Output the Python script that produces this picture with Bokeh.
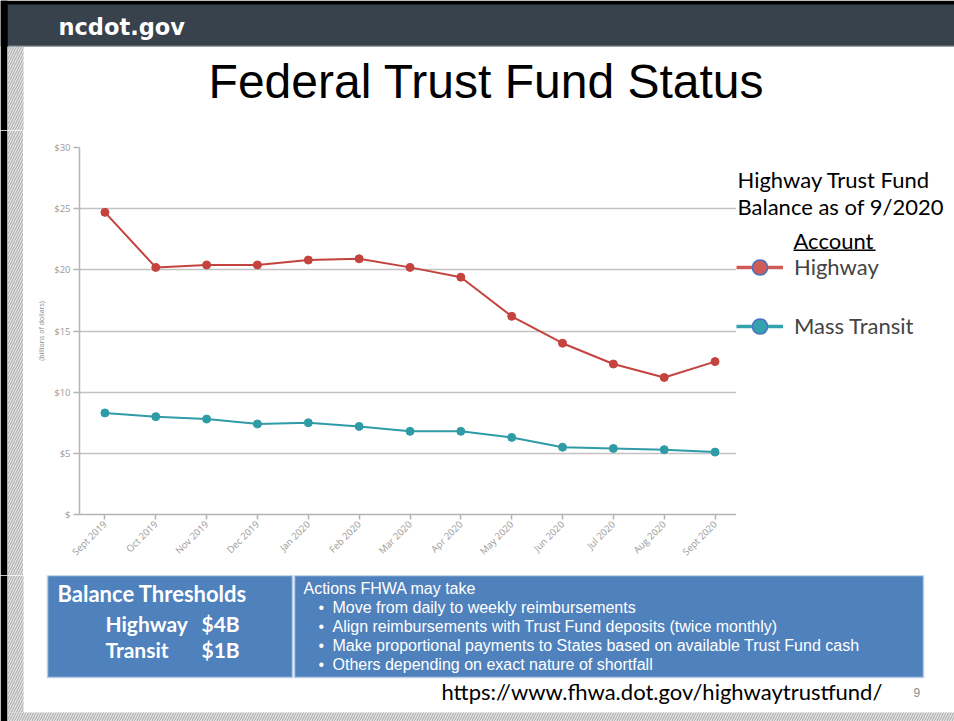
import math
from bokeh.plotting import figure
from bokeh.layouts import column, row
from bokeh.models import Range1d, Legend, LegendItem, FixedTicker
from bokeh.core.properties import value
from bokeh.embed import file_html
from bokeh.resources import INLINE

# ---------------- data ----------------
months = ["Sept 2019", "Oct 2019", "Nov 2019", "Dec 2019", "Jan 2020", "Feb 2020",
          "Mar 2020", "Apr 2020", "May 2020", "Jun 2020", "Jul 2020", "Aug 2020",
          "Sept 2020"]
highway = [24.7, 20.2, 20.4, 20.4, 20.8, 20.9, 20.2, 19.4, 16.2, 14.0, 12.3, 11.2, 12.5]
transit = [8.3, 8.0, 7.8, 7.4, 7.5, 7.2, 6.8, 6.8, 6.3, 5.5, 5.4, 5.3, 5.1]
y_ticks = [0, 5, 10, 15, 20, 25, 30]
y_tick_labels = ["$", "$5", "$10", "$15", "$20", "$25", "$30"]
series_names = ["Highway", "Mass Transit"]
actions = ["Move from daily to weekly reimbursements",
           "Align reimbursements with Trust Fund deposits (twice monthly)",
           "Make proportional payments to States based on available Trust Fund cash",
           "Others depending on exact nature of shortfall"]

RED = "#c4433e"
TEAL = "#2f9ba6"
BLUE_BOX = "#4f81bd"
HEADER = "#37424d"

xi = list(range(len(months)))

PAGE_W, PAGE_H = 954, 721
TOP_H = 130          # header + title strip
MID_H = 445          # chart row
STRIP_W = 23
SPLIT_X = 736        # chart | legend boundary
BASELINE_K = 0.37    # rendered baseline sits ~0.37em below the given y


def no_align(f):
    if "frame_align" in f.properties():
        f.frame_align = False
    return f


def deco_fig(x0, x1, y0, y1):
    """A plain figure whose frame fills it, in page pixel coordinates."""
    f = figure(width=x1 - x0, height=y1 - y0, x_range=Range1d(x0, x1),
               y_range=Range1d(y1, y0), output_backend="svg", toolbar_location=None,
               x_axis_location=None, y_axis_location=None, min_border=0)
    f.xgrid.grid_line_color = None
    f.ygrid.grid_line_color = None
    f.outline_line_color = None
    f.background_fill_color = "white"
    f.border_fill_color = "white"
    return no_align(f)


def hatch(f, l, r, t, b):
    f.quad(left=[l], right=[r], top=[t], bottom=[b], fill_color="#e3e3e3",
           line_color=None, hatch_pattern="/", hatch_color="#a6a6a6",
           hatch_scale=5, hatch_weight=1)


def rect(f, l, r, t, b, color, **kw):
    f.quad(left=[l], right=[r], top=[t], bottom=[b], fill_color=color,
           line_color=kw.pop("line_color", None), **kw)


def txt(f, x, y, s, size, font="Lato", color="black", align="left",
        style="normal"):
    f.text(x=[x], y=[y - BASELINE_K * size], text=[s], text_font=value(font),
           text_font_size=value(f"{size}px"), text_color=color,
           text_align=align, text_baseline="alphabetic", text_font_style=style)


# ---------------- top: header + title ----------------
top = deco_fig(0, PAGE_W, 0, TOP_H)
rect(top, 0, PAGE_W, 0, 46, "black")
rect(top, 7, PAGE_W, 4, 45, HEADER)
rect(top, 7, PAGE_W, 45, 46.5, "#9aa3aa")
rect(top, 0, 7, 0, TOP_H, "black")
hatch(top, 7, STRIP_W, 46.5, TOP_H)
txt(top, 58, 35, "ncdot.gov", 22.5, font="DejaVu Sans", color="white", style="bold")
txt(top, 486, 99, "Federal Trust Fund Status", 48, font="Liberation Sans",
    align="center")

# ---------------- middle: left strip ----------------
strip = deco_fig(0, STRIP_W, TOP_H, TOP_H + MID_H)
rect(strip, 0, 7, TOP_H, TOP_H + MID_H, "black")
hatch(strip, 7, STRIP_W, TOP_H, TOP_H + MID_H)

# ---------------- middle: chart ----------------
AX_L, AX_R_REF, AX_T, AX_B = 79, 740, 147, 514
px_per = (AX_R_REF - AX_L) / len(months)
x_end = -0.5 + (SPLIT_X - AX_L) / px_per
p = figure(width=SPLIT_X - STRIP_W, height=MID_H,
           x_range=Range1d(-0.5, x_end), y_range=Range1d(0, 30),
           output_backend="svg", toolbar_location=None,
           min_border_left=AX_L - STRIP_W, min_border_right=0,
           min_border_top=AX_T - TOP_H, min_border_bottom=TOP_H + MID_H - AX_B)
no_align(p)
p.outline_line_color = None
p.background_fill_color = "white"
p.border_fill_color = "white"
p.xgrid.grid_line_color = None
p.ygrid.grid_line_color = "#c2c2c2"
p.ygrid.grid_line_width = 1.5
p.yaxis.ticker = FixedTicker(ticks=y_ticks)
p.yaxis.major_label_overrides = {t: l for t, l in zip(y_ticks, y_tick_labels)}
p.xaxis.ticker = FixedTicker(ticks=xi)
p.xaxis.major_label_overrides = {i: m for i, m in zip(xi, months)}
for ax in (p.xaxis[0], p.yaxis[0]):
    ax.axis_line_color = "#b4b4b4"
    ax.axis_line_width = 1.5
    ax.major_tick_line_color = "#b4b4b4"
    ax.major_tick_line_width = 1.5
    ax.major_tick_in = 0
    ax.minor_tick_line_color = None
    ax.major_label_text_color = "#9a9a9a"
    ax.major_label_text_font = "Open Sans"
    ax.major_label_text_font_size = "9.5px"
p.yaxis.major_tick_out = 6
p.yaxis.major_label_standoff = 3
p.xaxis.major_tick_out = 5
p.xaxis.major_label_standoff = 3
p.xaxis.major_label_orientation = math.pi / 4
p.yaxis.axis_label = "(billions of dollars)"
p.yaxis.axis_label_text_font = "Open Sans"
p.yaxis.axis_label_text_font_size = "7px"
p.yaxis.axis_label_text_font_style = "normal"
p.yaxis.axis_label_text_color = "#8a8a8a"
p.yaxis.axis_label_standoff = 5

p.line(xi, highway, line_color=RED, line_width=2)
p.scatter(xi, highway, size=8, fill_color=RED, line_color=RED)
p.line(xi, transit, line_color=TEAL, line_width=2)
p.scatter(xi, transit, size=8, fill_color=TEAL, line_color=TEAL)

# ---------------- middle: legend panel ----------------
lg = deco_fig(SPLIT_X, PAGE_W, TOP_H, TOP_H + MID_H)
txt(lg, 737, 187, "Highway Trust Fund", 22)
txt(lg, 737, 214, "Balance as of 9/2020", 22)
txt(lg, 793, 248, "Account", 22)
rect(lg, 793, 875, 249, 250.5, "black")

# legend key renderers: their (dummy) points lie outside this panel's view,
# only the legend swatches are visible
off_x, off_y = [0, 1], [0, 1]
lg_h_line = lg.line(off_x, off_y, line_color="#cf5b57", line_width=3.5)
lg_h_dot = lg.scatter(off_x, off_y, fill_color="#cf5b57", line_color="#4a72c0",
                      line_width=1.5)
lg_t_line = lg.line(off_x, off_y, line_color="#33a2ae", line_width=3.5)
lg_t_dot = lg.scatter(off_x, off_y, fill_color="#33a2ae", line_color="#4a72c0",
                      line_width=1.5)
GH = 38
legend = Legend(items=[LegendItem(label=series_names[0], renderers=[lg_h_line, lg_h_dot]),
                       LegendItem(label=series_names[1], renderers=[lg_t_line, lg_t_dot])],
                location=(0, TOP_H + MID_H - (266.7 - GH / 2 + 2 * GH + 21)),
                padding=0, margin=0, spacing=21,
                glyph_width=47, glyph_height=GH, label_height=GH, label_standoff=11,
                label_text_font="Lato", label_text_font_size="22px",
                border_line_color=None, background_fill_alpha=0)
lg.add_layout(legend)

# ---------------- bottom: threshold / action boxes ----------------
bot = deco_fig(0, PAGE_W, TOP_H + MID_H, PAGE_H)
y0 = TOP_H + MID_H
rect(bot, 0, 7, y0, PAGE_H, "black")
hatch(bot, 7, STRIP_W, y0, 712)
hatch(bot, 7, PAGE_W, 712, PAGE_H)
rect(bot, 47, 292, 575, 677, BLUE_BOX, line_color="#b9cde5", line_width=1.5)
rect(bot, 294, 923, 575, 677, BLUE_BOX, line_color="#b9cde5", line_width=1.5)
txt(bot, 57, 601.5, "Balance Thresholds", 22, color="white", style="bold")
txt(bot, 105, 630.5, "Highway", 21, color="white", style="bold")
txt(bot, 201, 630.5, "$4B", 21, color="white", style="bold")
txt(bot, 105, 657, "Transit", 21, color="white", style="bold")
txt(bot, 201, 657, "$1B", 21, color="white", style="bold")
txt(bot, 303, 594, "Actions FHWA may take", 16, font="Liberation Sans", color="white")
for i, a in enumerate(actions):
    yb = 613 + 19 * i
    txt(bot, 318, yb, "\u2022", 16, font="Liberation Sans", color="white")
    txt(bot, 332, yb, a, 16, font="Liberation Sans", color="white")
txt(bot, 441, 699, "https://www.fhwa.dot.gov/highwaytrustfund/", 22)
txt(bot, 913, 696, "9", 12, font="Liberation Sans", color="#8c8c8c")

layout = column(top, row(strip, p, lg, spacing=0), bot, spacing=0)
open("out.html", "w").write(file_html(layout, INLINE))
